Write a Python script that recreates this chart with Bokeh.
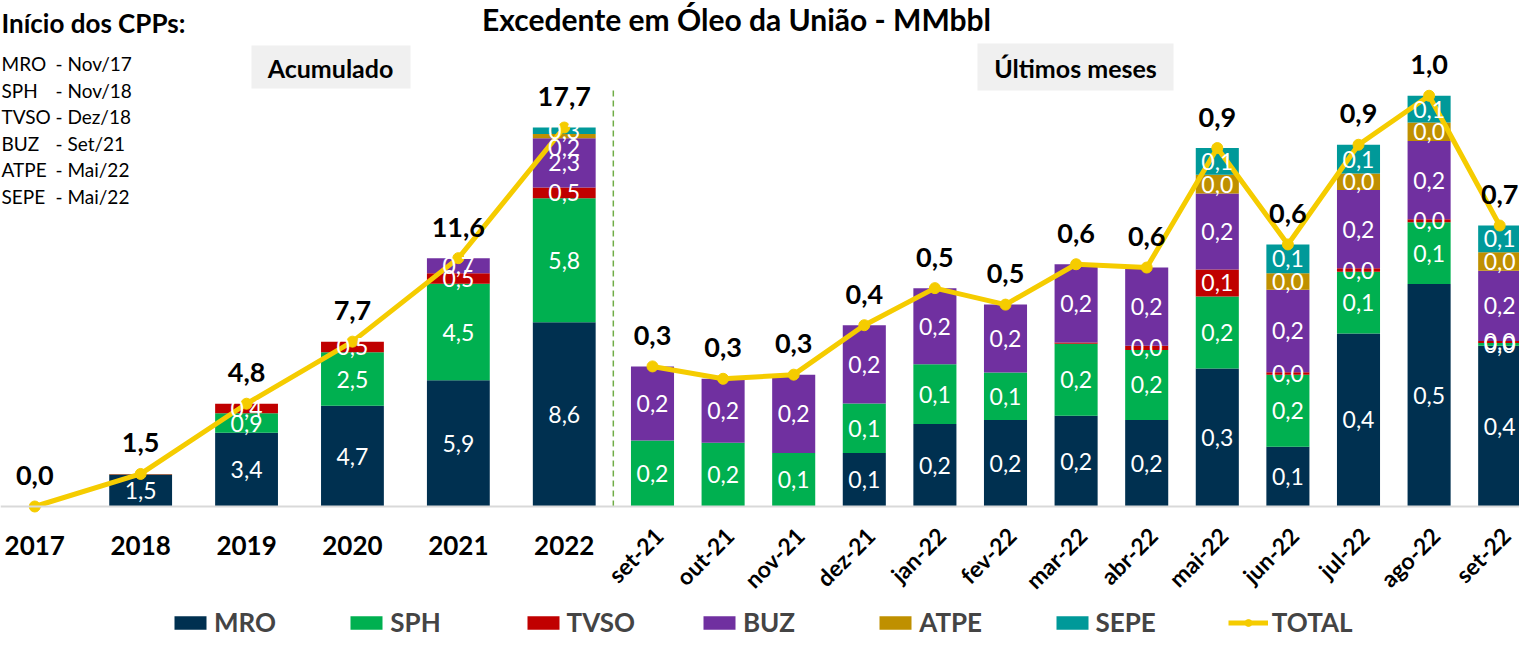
import math
from bokeh.plotting import figure
from bokeh.models import ColumnDataSource, Range1d, Label, Legend, LegendItem, Span
from bokeh.core.properties import value
from bokeh.embed import file_html
from bokeh.resources import INLINE

# ---------------- data ----------------
series = ["MRO", "SPH", "TVSO", "BUZ", "ATPE", "SEPE"]
colors = ["#003050", "#00B050", "#C00000", "#7030A0", "#BF9000", "#009999"]
total_color = "#F5CC00"

years = ["2017", "2018", "2019", "2020", "2021", "2022"]
acc_MRO = [0.0, 1.47, 3.44, 4.7, 5.9, 8.6]
acc_SPH = [0.0, 0.03, 0.92, 2.5, 4.5, 5.8]
acc_TVSO = [0.0, 0.02, 0.44, 0.5, 0.5, 0.5]
acc_BUZ = [0.0, 0.0, 0.0, 0.0, 0.7, 2.3]
acc_ATPE = [0.0, 0.0, 0.0, 0.0, 0.0, 0.2]
acc_SEPE = [0.0, 0.0, 0.0, 0.0, 0.0, 0.3]

months = ["set-21", "out-21", "nov-21", "dez-21", "jan-22", "fev-22", "mar-22",
          "abr-22", "mai-22", "jun-22", "jul-22", "ago-22", "set-22"]
m_MRO = [0.0, 0.0, 0.0, 0.13, 0.2, 0.21, 0.22, 0.21, 0.335, 0.145, 0.42, 0.54, 0.39]
m_SPH = [0.16, 0.155, 0.13, 0.12, 0.145, 0.115, 0.175, 0.17, 0.175, 0.175, 0.15, 0.15, 0.007]
m_TVSO = [0.0, 0.0, 0.0, 0.0, 0.0, 0.0, 0.003, 0.01, 0.065, 0.006, 0.008, 0.007, 0.005]
m_BUZ = [0.18, 0.155, 0.19, 0.19, 0.185, 0.165, 0.19, 0.19, 0.185, 0.2, 0.19, 0.19, 0.17]
m_ATPE = [0.0, 0.0, 0.0, 0.0, 0.0, 0.0, 0.0, 0.0, 0.045, 0.04, 0.04, 0.045, 0.045]
m_SEPE = [0.0, 0.0, 0.0, 0.0, 0.0, 0.0, 0.0, 0.0, 0.065, 0.07, 0.07, 0.065, 0.065]

cpp_names = ["MRO", "SPH", "TVSO", "BUZ", "ATPE", "SEPE"]
cpp_start = ["Nov/17", "Nov/18", "Dez/18", "Set/21", "Mai/22", "Mai/22"]

title_text = "Excedente em Óleo da União - MMbbl"
left_title = "Acumulado"
right_title = "Últimos meses"
cpp_title = "Início dos CPPs:"

# ---------------- layout helpers (reference pixel -> data units) ----------------
FONT = "Lato"
W, H = 1519, 652
BASE = 506.0          # baseline pixel row
PXL = 21.41           # pixels per MMbbl, accumulated panel
PXR = 412.0           # pixels per MMbbl, monthly panel
SLOT = 70.6           # pixels per x unit


def ux(px):
    return (px + 18.7) / SLOT


def ly(py):
    return (BASE - py) / PXL


def ry(py):
    return (BASE - py) / PXR


def fmt(v):
    return f"{v:.1f}".replace(".", ",")


x_left = [0.75 + 1.5 * i for i in range(len(years))]
x_right = [x_left[-1] + 1.25 + j for j in range(len(months))]
w_left, w_right = 0.89, 0.61

left = dict(x=x_left, MRO=acc_MRO, SPH=acc_SPH, TVSO=acc_TVSO, BUZ=acc_BUZ, ATPE=acc_ATPE, SEPE=acc_SEPE)
right = dict(x=x_right, MRO=m_MRO, SPH=m_SPH, TVSO=m_TVSO, BUZ=m_BUZ, ATPE=m_ATPE, SEPE=m_SEPE)
src_l = ColumnDataSource(left)
src_r = ColumnDataSource(right)

tot_l = [sum(left[s][i] for s in series) for i in range(len(years))]
tot_r = [sum(right[s][i] for s in series) for i in range(len(months))]

p = figure(width=W, height=H,
           x_range=Range1d(ux(0), ux(W)), y_range=Range1d(ly(H), ly(0)),
           x_axis_type=None, y_axis_type=None,
           output_backend="svg", toolbar_location=None, min_border=0)
p.extra_y_ranges = {"m": Range1d(ry(H), ry(0))}
p.outline_line_color = None
p.background_fill_color = "white"
p.border_fill_color = "white"

# header boxes
p.quad(left=[ux(251)], right=[ux(410)], top=[ly(45)], bottom=[ly(88)],
       fill_color="#F0F0F0", line_color=None)
p.quad(left=[ux(977)], right=[ux(1173)], top=[ly(43)], bottom=[ly(90)],
       fill_color="#F0F0F0", line_color=None)

# baseline & separator
p.add_layout(Span(location=0, dimension="width", line_color="#D9D9D9", line_width=2))
sep_x = ((x_left[-1] + w_left / 2) + (x_right[0] - w_right / 2)) / 2
p.segment(x0=[sep_x], y0=[0], x1=[sep_x], y1=[ly(90)], line_color="#70AD47",
          line_dash="6 4", line_width=1.5)

# stacked bars
rl = p.vbar_stack(series, x="x", width=w_left, source=src_l, fill_color=colors, line_color=None)
rr = p.vbar_stack(series, x="x", width=w_right, source=src_r, fill_color=colors, line_color=None,
                  y_range_name="m")

# total lines
ln_l = p.line(x_left, tot_l, line_color=total_color, line_width=5)
sc_l = p.scatter(x_left, tot_l, size=11, fill_color=total_color, line_color=total_color)
p.line(x_right, tot_r, line_color=total_color, line_width=5, y_range_name="m")
p.scatter(x_right, tot_r, size=11, fill_color=total_color, line_color=total_color, y_range_name="m")


# in-bar labels
def seg_labels(data, xs, minv, pxu, spread):
    lx, lyy, lt = [], [], []
    for i, x in enumerate(xs):
        bottom = 0.0
        cur = []
        for s in series:
            v = data[s][i]
            if v >= minv:
                cur.append([x, bottom + v / 2, fmt(v)])
            bottom += v
        if spread:
            for k in range(len(cur) - 2, -1, -1):
                if (cur[k + 1][1] - cur[k][1]) * pxu < 10:
                    cur[k][1] = cur[k + 1][1] - 17 / pxu
        for c in cur:
            lx.append(c[0]); lyy.append(c[1]); lt.append(c[2])
    return ColumnDataSource(dict(x=lx, y=lyy, t=lt))


lab_l = seg_labels(left, x_left, 0.1, PXL, True)
lab_r = seg_labels(right, x_right, 0.005, PXR, False)
common = dict(text="t", text_color="white", text_align="center", text_baseline="middle",
              text_font=value(FONT), text_font_size="23px")
p.text(x="x", y="y", source=lab_l, **common)
p.text(x="x", y="y", source=lab_r, y_range_name="m", **common)

# total labels
tcommon = dict(text_color="black", text_align="center", text_baseline="middle",
               text_font=value(FONT), text_font_size="27px", text_font_style="bold")
p.text(x=x_left, y=[t + 31 / PXL for t in tot_l], text=[fmt(t) for t in tot_l], **tcommon)
p.text(x=x_right, y=[t + 31 / PXR for t in tot_r], text=[fmt(t) for t in tot_r],
       y_range_name="m", **tcommon)

# category labels
p.text(x=x_left, y=[ly(545)] * len(years), text=years, text_align="center", text_baseline="middle",
       text_font=value(FONT), text_font_size="26px", text_font_style="bold", text_color="black")
p.text(x=[x + 0.09 for x in x_right], y=[ry(531)] * len(months), text=months, angle=math.pi / 4,
       text_align="right", text_baseline="middle", text_font=value(FONT), text_font_size="23px",
       text_font_style="bold", text_color="black", y_range_name="m")

# titles
p.add_layout(Label(x=ux(736), y=ly(18), text=title_text, text_align="center", text_baseline="middle",
                   text_font=FONT, text_font_style="bold", text_font_size="30px", text_color="black"))
p.add_layout(Label(x=ux(330), y=ly(67), text=left_title, text_align="center", text_baseline="middle",
                   text_font=FONT, text_font_style="bold", text_font_size="25px", text_color="black"))
p.add_layout(Label(x=ux(1075), y=ly(67), text=right_title, text_align="center", text_baseline="middle",
                   text_font=FONT, text_font_style="bold", text_font_size="25px", text_color="black"))
p.add_layout(Label(x=ux(1), y=ly(22), text=cpp_title, text_align="left", text_baseline="middle",
                   text_font=FONT, text_font_style="bold", text_font_size="26px", text_color="black"))
for k, (n, d) in enumerate(zip(cpp_names, cpp_start)):
    yy = ly(63 + 26.6 * k)
    p.add_layout(Label(x=ux(1), y=yy, text=n, text_align="left", text_baseline="middle",
                       text_font=FONT, text_font_size="19px", text_color="black"))
    p.add_layout(Label(x=ux(55), y=yy, text="- " + d, text_align="left", text_baseline="middle",
                       text_font=FONT, text_font_size="19px", text_color="black"))

# legends (equally spaced entries)
entries = [(s, [r]) for s, r in zip(series, rl)] + [("TOTAL", [ln_l, sc_l])]
for i, (name, rends) in enumerate(entries):
    leg = Legend(items=[LegendItem(label=name, renderers=rends)],
                 location=(170 + 176.3 * i, 14), orientation="horizontal",
                 padding=0, margin=0, spacing=0, border_line_color=None,
                 background_fill_alpha=0, glyph_width=40, glyph_height=17,
                 label_standoff=4, label_text_font=FONT, label_text_font_style="bold",
                 label_text_font_size="26px", label_height=17)
    p.add_layout(leg)

open("out.html", "w").write(file_html(p, INLINE))
